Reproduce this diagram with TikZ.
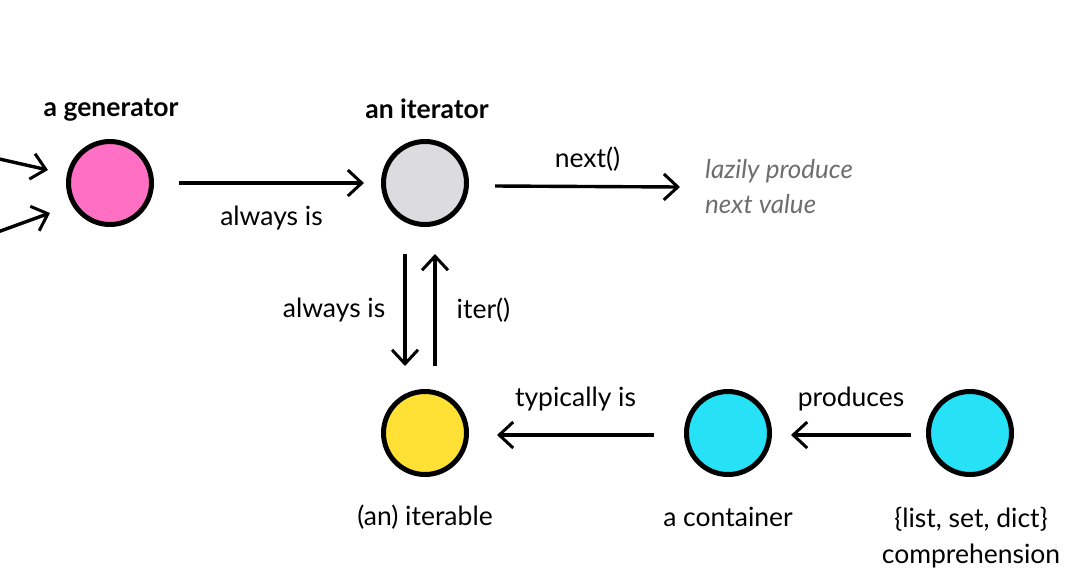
\documentclass[tikz,border=0pt]{standalone}
\usepackage{fontspec}
\setmainfont{Lato}
\usetikzlibrary{arrows.meta}
\definecolor{gpink}{HTML}{FF70C4}
\definecolor{ggray}{HTML}{DCDCDF}
\definecolor{gyellow}{HTML}{FFE135}
\definecolor{gcyan}{HTML}{27E2F6}
\definecolor{txtgray}{HTML}{6E6E6E}
\tikzset{
  dot/.style={circle, draw=black, line width=5pt, minimum size=83pt, inner sep=0pt},
  conn/.style={line width=3.4pt, -{Straight Barb[length=14pt, width=26pt, line width=3pt]}},
  lbl/.style={font=\fontsize{26.5}{32}\selectfont, inner sep=0pt},
  ttl/.style={font=\fontsize{26.5}{32}\selectfont\bfseries, inner sep=0pt},
}
\begin{document}
\begin{tikzpicture}[x=1pt,y=-1pt]
\useasboundingbox (0,0) rectangle (1067,574);
% nodes
\node[dot, fill=gpink] (gen) at (110,183) {};
\node[dot, fill=ggray] (itr) at (425,183) {};
\node[dot, fill=gyellow] (itb) at (425,433) {};
\node[dot, fill=gcyan] (con) at (728,433) {};
\node[dot, fill=gcyan] (cmp) at (970,433) {};
% titles
\node[ttl] (tgen) at (111,110) {a generator};
\node[ttl] (titr) at (427,109) {an iterator};
\node[lbl] (titb) at (425,517) {(an) iterable};
\node[lbl] (tcon) at (728,517) {a container};
\node[lbl, align=center, font=\fontsize{26.5}{36}\selectfont] (tcmp) at (971,538) {\{list, set, dict\}\\comprehension};
\node[lbl, align=left, anchor=west, text=txtgray, font=\fontsize{26}{35}\selectfont\itshape] (lazy) at (705,187) {lazily produce\\next value};
% free ends
\coordinate (l1s) at (-5,158);
\coordinate (l1e) at (48,170);
\coordinate (l2s) at (-5,233);
\coordinate (l2e) at (50,213);
\draw[conn] (l1s) -- (l1e);
\draw[conn] (l2s) -- (l2e);
% connectors
\draw[conn] ([xshift=25pt]gen.east) -- node[lbl, below=21pt] {always is} ([xshift=-17pt]itr.west);
\draw[conn] ([xshift=26pt,yshift=-3pt]itr.east) -- node[lbl, above=13pt] {next()} ([xshift=-25pt]lazy.west);
\draw[conn] ([xshift=-20pt,yshift=-27pt]itr.south) -- node[lbl, left=18pt] {always is} ([xshift=-20pt,yshift=23pt]itb.north);
\draw[conn] ([xshift=10pt,yshift=23pt]itb.north) -- node[lbl, right=20pt] {iter()} ([xshift=10pt,yshift=-27pt]itr.south);
\draw[conn] ([xshift=-30pt,yshift=-2pt]con.west) -- node[lbl, above=22pt] {typically is} ([xshift=28pt,yshift=-2pt]itb.east);
\draw[conn] ([xshift=-15pt,yshift=-2pt]cmp.west) -- node[lbl, above=22pt] {produces} ([xshift=19pt,yshift=-2pt]con.east);
\end{tikzpicture}
\end{document}
